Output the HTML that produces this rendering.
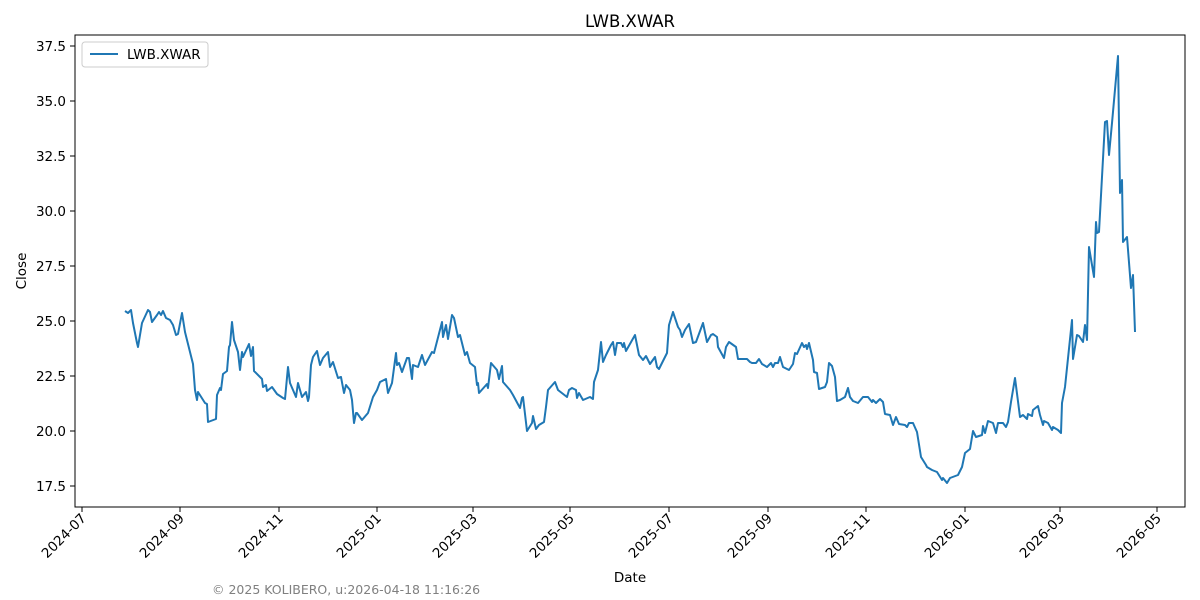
<!DOCTYPE html>
<html><head><meta charset="utf-8"><style>body{margin:0;background:#fff}svg{display:block}</style></head>
<body>
<svg width="1200" height="600" xmlns="http://www.w3.org/2000/svg" font-family="DejaVu Sans, Liberation Sans, sans-serif">
<rect width="1200" height="600" fill="#fff"/>
<text x="630" y="27" font-size="16.5" text-anchor="middle" fill="#000">LWB.XWAR</text>
<rect x="75" y="35" width="1110" height="472" fill="none" stroke="#000" stroke-width="1"/>
<g font-size="13.5" fill="#000" text-anchor="end">
<line x1="70" y1="46" x2="75" y2="46" stroke="#000"/><text x="66" y="51">37.5</text>
<line x1="70" y1="101" x2="75" y2="101" stroke="#000"/><text x="66" y="106">35.0</text>
<line x1="70" y1="156" x2="75" y2="156" stroke="#000"/><text x="66" y="161">32.5</text>
<line x1="70" y1="211" x2="75" y2="211" stroke="#000"/><text x="66" y="216">30.0</text>
<line x1="70" y1="266" x2="75" y2="266" stroke="#000"/><text x="66" y="271">27.5</text>
<line x1="70" y1="321" x2="75" y2="321" stroke="#000"/><text x="66" y="326">25.0</text>
<line x1="70" y1="376" x2="75" y2="376" stroke="#000"/><text x="66" y="381">22.5</text>
<line x1="70" y1="431" x2="75" y2="431" stroke="#000"/><text x="66" y="436">20.0</text>
<line x1="70" y1="486" x2="75" y2="486" stroke="#000"/><text x="66" y="491">17.5</text>
</g>
<g font-size="13.5" fill="#000" text-anchor="end">
<g transform="translate(82,507)"><line y2="5" stroke="#000"/><text transform="translate(5,12) rotate(-45)">2024-07</text></g>
<g transform="translate(180,507)"><line y2="5" stroke="#000"/><text transform="translate(5,12) rotate(-45)">2024-09</text></g>
<g transform="translate(279,507)"><line y2="5" stroke="#000"/><text transform="translate(5,12) rotate(-45)">2024-11</text></g>
<g transform="translate(377,507)"><line y2="5" stroke="#000"/><text transform="translate(5,12) rotate(-45)">2025-01</text></g>
<g transform="translate(473,507)"><line y2="5" stroke="#000"/><text transform="translate(5,12) rotate(-45)">2025-03</text></g>
<g transform="translate(570,507)"><line y2="5" stroke="#000"/><text transform="translate(5,12) rotate(-45)">2025-05</text></g>
<g transform="translate(669,507)"><line y2="5" stroke="#000"/><text transform="translate(5,12) rotate(-45)">2025-07</text></g>
<g transform="translate(768,507)"><line y2="5" stroke="#000"/><text transform="translate(5,12) rotate(-45)">2025-09</text></g>
<g transform="translate(866,507)"><line y2="5" stroke="#000"/><text transform="translate(5,12) rotate(-45)">2025-11</text></g>
<g transform="translate(965,507)"><line y2="5" stroke="#000"/><text transform="translate(5,12) rotate(-45)">2026-01</text></g>
<g transform="translate(1060,507)"><line y2="5" stroke="#000"/><text transform="translate(5,12) rotate(-45)">2026-03</text></g>
<g transform="translate(1157,507)"><line y2="5" stroke="#000"/><text transform="translate(5,12) rotate(-45)">2026-05</text></g>
</g>
<text x="630" y="582" font-size="13.5" text-anchor="middle">Date</text>
<text transform="translate(26,271) rotate(-90)" font-size="13.5" text-anchor="middle">Close</text>
<text x="212" y="594" font-size="12.5" fill="#808080">© 2025 KOLIBERO, u:2026-04-18 11:16:26</text>
<polyline fill="none" stroke="#1f77b4" stroke-width="2" stroke-linejoin="round" points="
125,311 128,313 131,310 133,323 137,343 138,347 142,323 148,310 150,312 152,322 157,315 159,312 161,315 163,311 166,318 170,320 173,325 176,335 178,334 182,313 185,332 193,364 195,390 197,400 198,392 205,403 207,404 208,422 216,419 217,395 220,388 221,390 223,374 227,371 229,347 230,345 232,322 234,340 238,352 240,370 242,352 243,357 249,344 251,356 253,347 254,371 262,379 263,387 266,385 267,391 272,387 277,394 283,398 285,399 288,367 290,383 296,397 298,383 302,397 306,392 308,401 309,397 311,365 313,357 317,351 320,365 323,358 328,352 330,367 333,362 338,378 341,377 344,393 346,385 350,390 352,400 354,423 356,413 357,413 362,420 368,413 373,397 377,390 380,382 386,379 388,393 392,383 396,353 397,365 399,363 402,372 407,358 409,358 412,379 413,365 418,367 422,355 425,365 432,352 434,353 442,322 443,337 446,325 448,339 452,315 454,318 458,337 460,335 465,355 467,352 470,363 475,367 477,385 478,383 479,393 487,384 488,388 491,363 497,370 499,379 502,366 503,382
510,390 513,395 520,408 522,398 523,397 527,431 532,423 533,416 536,429 539,425 544,422 546,407 548,390 555,382 558,390 567,397 569,390 572,388 576,390 577,398 579,393 583,400 590,397 593,399 594,382 598,370 601,342 603,362 606,355 611,345 613,342 615,355 617,343 621,343 623,347 624,343 626,351 635,335 639,355 643,360 646,356 650,364 655,357 657,367 659,369 667,353 669,325 673,312 678,327 680,330 682,337 685,330 689,324 693,343 696,342 703,323 707,342 711,335 713,334 717,337 718,347 724,358 726,347 729,342 736,347 738,359 747,359 750,362 752,363 756,363 759,359 762,364 767,367 771,363 773,367 775,363 778,363 780,357 783,367 787,369 789,370 793,364 795,353 797,354 802,343 804,347 806,345 807,349 809,343 813,360 814,372 817,373 819,389 825,387 827,382 829,363 832,366 835,377 837,401 840,400 845,397 848,388 850,397 853,401 858,403 863,397 868,397 872,402 873,400 876,403 880,399 883,402 885,414 890,415 893,425 896,417 899,424 905,425 907,427 909,423 913,423 917,432 921,457 926,465 927,467 932,470 937,472 942,480 943,478 947,483 950,478 958,475 962,467 965,453 970,449 973,431 976,437 982,435 983,426 985,433 988,421 993,423 996,433 998,423 1003,423 1006,427 1008,422 1011,402 1015,378 1020,417 1023,415 1027,419 1028,414 1032,416 1033,410 1038,406 1040,415 1043,425 1044,421 1048,423 1052,430 1053,427 1058,430 1061,433 1062,403 1065,387 1072,320 1073,359 1077,335 1079,336 1083,342 1085,325 1087,340 1089,247 1094,277 1096,222 1097,233 1099,232 1105,122 1107,121 1109,155 1112,123 1118,56 1120,193 1122,180 1123,242 1127,237 1131,288 1133,275 1135,332"/>
<rect x="82" y="42" width="126" height="25" rx="3" fill="#fff" stroke="#ccc"/>
<line x1="90" y1="54" x2="118" y2="54" stroke="#1f77b4" stroke-width="2"/>
<text x="127" y="59" font-size="13.5">LWB.XWAR</text>
</svg>
</body></html>
